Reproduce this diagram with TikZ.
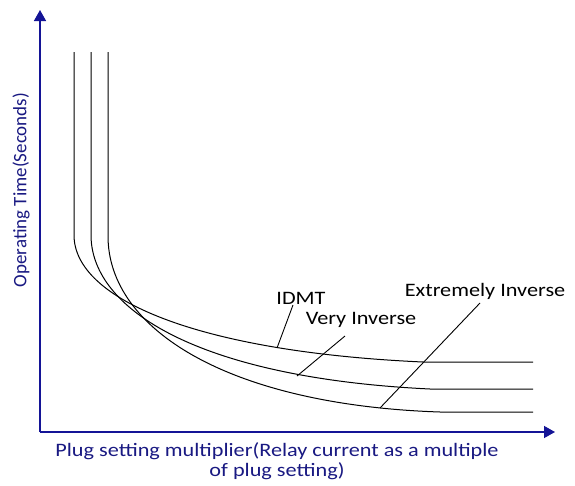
\documentclass[tikz,border=0pt]{standalone}
\usepackage{fontspec}
\setmainfont{Carlito}
\newfontfamily\widefont[FakeStretch=1.17]{Carlito}
\usetikzlibrary{arrows.meta}
\definecolor{axisblue}{RGB}{20,20,150}
\definecolor{textblue}{RGB}{25,25,130}
\tikzset{
  axis/.style={draw=axisblue, line width=1.4pt, -{Triangle[length=11pt,width=12pt]}},
  curve/.style={draw=black, line width=1pt},
  leader/.style={draw=black, line width=0.9pt},
  lbl/.style={font=\widefont\fontsize{19}{22}\selectfont, inner sep=0pt},
  axlbl/.style={font=\fontsize{19}{21}\selectfont, text=textblue, inner sep=0pt, align=center},
  xaxlbl/.style={axlbl, font=\widefont\fontsize{19}{19.5}\selectfont}
}
\begin{document}
\begin{tikzpicture}[x=1pt,y=-1pt]
\useasboundingbox (0,0) rectangle (575,485);
% axes
\coordinate (O) at (40,432);
\coordinate (ytip) at (40,10);
\coordinate (xtip) at (555,432);
\draw[axis] (O) -- (ytip);
\draw[axis] (O) -- (xtip);
\node[axlbl, rotate=90] (ylab) at (21,190) {Operating Time(Seconds)};
\node[xaxlbl] (xlab) at (277,461) {Plug setting multiplier(Relay current as a multiple\\of plug setting)};
% curves
\draw[curve] (74,52) -- (74,235) .. controls (74,300) and (200,352) .. (423,362) -- (533,362);
\draw[curve] (91,52) -- (91,235) .. controls (91,310) and (200,378) .. (430,389) -- (533,389);
\draw[curve] (108,52) -- (108,236) .. controls (108,330) and (230,405) .. (440,412) -- (533,412);
% labels
\node[lbl] (idmt) at (301,298) {IDMT};
\node[lbl] (vi) at (361,320) {Very Inverse};
\node[lbl] (ei) at (485,291) {Extremely Inverse};
\coordinate (idmtA) at (277,348);
\coordinate (idmtB) at (293,305);
\coordinate (viA) at (297,376);
\coordinate (viB) at (345,336);
\coordinate (eiA) at (380,408);
\coordinate (eiB) at (480,303);
\draw[leader] (idmtA) -- (idmtB);
\draw[leader] (viA) -- (viB);
\draw[leader] (eiA) -- (eiB);
\end{tikzpicture}
\end{document}
